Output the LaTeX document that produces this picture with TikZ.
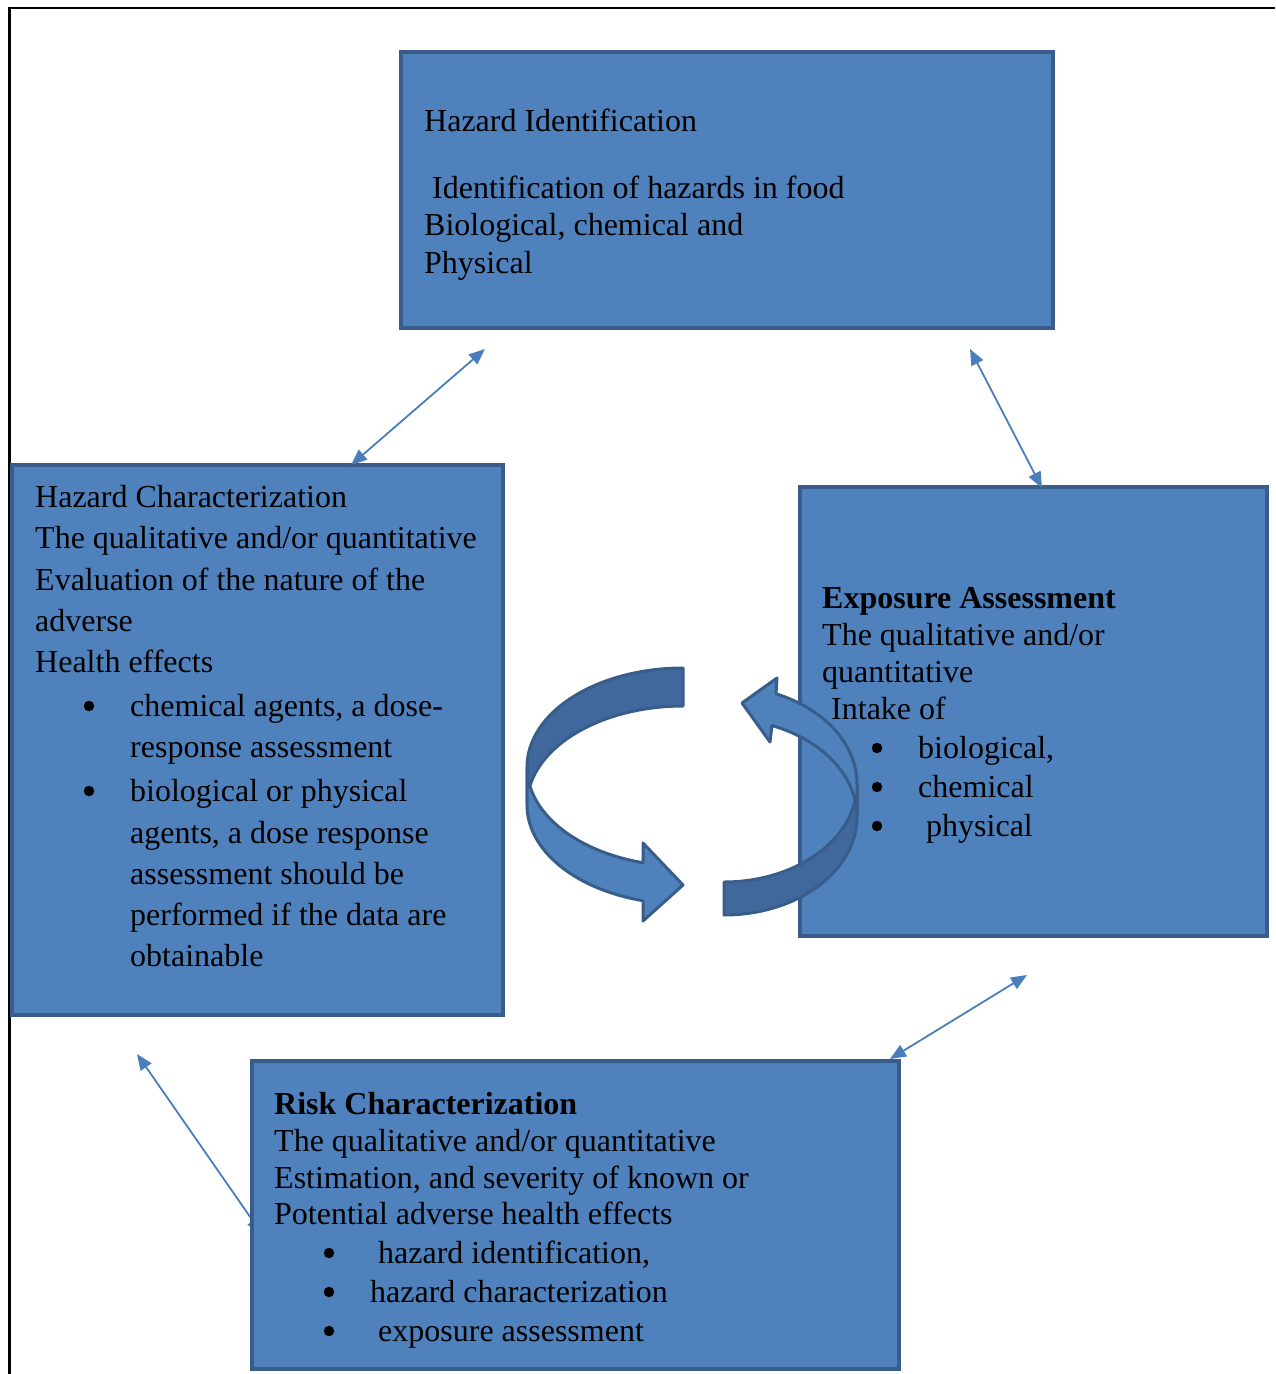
\documentclass[tikz,border=0pt]{standalone}
\usepackage{fontspec}
\setmainfont{Liberation Serif}
\usetikzlibrary{arrows.meta}
\definecolor{boxfill}{HTML}{4F81BD}
\definecolor{boxline}{HTML}{385D8A}
\definecolor{ringdark}{HTML}{40689D}
\definecolor{arrowblue}{HTML}{4A7EBB}
\tikzset{
  box/.style={rectangle, draw=boxline, fill=boxfill, line width=4pt, outer sep=0pt, inner sep=0pt, anchor=north west},
  thinarrow/.style={draw=arrowblue, line width=1.8pt, >={Triangle[length=16pt,width=13pt]}, <->},
  ringback/.style={draw=boxline, fill=ringdark, line width=3pt, line join=round},
  ringfront/.style={draw=boxline, fill=boxfill, line width=3pt, line join=round},
  txt/.style={anchor=base west, inner sep=0pt, font=\fontsize{32}{37}\selectfont},
  bul/.style={circle, fill=black, inner sep=0pt, minimum size=10.5pt},
}
\newcommand\TL[4]{\node[txt] (#1) at (#2,#3+1) {#4};}
\newcommand\BL[3]{\node[bul] (#1) at (#2,#3-9) {};}
\begin{document}
\begin{tikzpicture}[x=1pt,y=-1pt]
\useasboundingbox (0,0) rectangle (1275,1374);
% frame
\draw[line width=2.7pt] (9.5,1374) -- (9.5,8) -- (1275,8);
% arrow partly hidden behind the risk box
\coordinate (a4s) at (137,1054);
\coordinate (a4e) at (262,1234);
\draw[thinarrow] (a4s) -- (a4e);
% boxes
\node[box, minimum width=652pt, minimum height=276pt] (hi) at (401,52) {};
\node[box, minimum width=491pt, minimum height=550pt] (hc) at (12,465) {};
\node[box, minimum width=467pt, minimum height=449pt] (ea) at (800,487) {};
\node[box, minimum width=647pt, minimum height=308pt] (rc) at (252,1061) {};
% thin double arrows
\coordinate (a1s) at (351,465);
\coordinate (a1e) at (485,349);
\coordinate (a2s) at (970,349);
\coordinate (a2e) at (1042,488);
\coordinate (a3s) at (890,1059);
\coordinate (a3e) at (1027,975);
\draw[thinarrow] (a1s) -- (a1e);
\draw[thinarrow] (a2s) -- (a2e);
\draw[thinarrow] (a3s) -- (a3e);
% left circular arrow
\draw[ringback] plot[domain=-90:-180, samples=40] ({683+156*cos(\x)},{767+99*sin(\x)})
   -- plot[domain=180:270, samples=40] ({683+156*cos(\x)},{805+99*sin(\x)}) -- cycle;
\draw[ringfront] plot[domain=180:104.86, samples=40] ({683+156*cos(\x)},{767+99*sin(\x)})
   -- (643,843) -- (683,885) -- (643,921)
   -- plot[domain=104.86:180, samples=40] ({683+156*cos(\x)},{805+99*sin(\x)}) -- cycle;
% right circular arrow
\draw[ringback] plot[domain=0:90, samples=40] ({724+133*cos(\x)},{817+98*sin(\x)})
   -- plot[domain=90:0, samples=40] ({724+133*cos(\x)},{784+98*sin(\x)}) -- cycle;
\draw[ringfront] plot[domain=0:-68.85, samples=40] ({724+133*cos(\x)},{817+98*sin(\x)})
   -- (770,742) -- (742,703) -- (777,678)
   -- plot[domain=-67:0, samples=40] ({724+133*cos(\x)},{784+98*sin(\x)}) -- cycle;
% Hazard Identification text
\TL{hi1}{424}{130}{Hazard Identification}
\TL{hi2}{432}{197}{Identification of hazards in food}
\TL{hi3}{424}{234}{Biological, chemical and}
\TL{hi4}{424}{272}{Physical}
% Hazard Characterization text
\TL{hc1}{35}{506}{Hazard Characterization}
\TL{hc2}{35}{547}{The qualitative and/or quantitative}
\TL{hc3}{35}{589}{Evaluation of the nature of the}
\TL{hc4}{35}{630}{adverse}
\TL{hc5}{35}{671}{Health effects}
\BL{hcb1}{89}{715}
\TL{hc6}{130}{715}{chemical agents, a dose-}
\TL{hc7}{130}{756}{response assessment}
\BL{hcb2}{89}{800}
\TL{hc8}{130}{800}{biological or physical}
\TL{hc9}{130}{842}{agents, a dose response}
\TL{hc10}{130}{883}{assessment should be}
\TL{hc11}{130}{924}{performed if the data are}
\TL{hc12}{130}{965}{obtainable}
% Exposure Assessment text
\TL{ea1}{822}{607}{\textbf{Exposure Assessment}}
\TL{ea2}{822}{644}{The qualitative and/or}
\TL{ea3}{822}{681}{quantitative}
\TL{ea4}{831}{718}{Intake of}
\BL{eab1}{877}{757}
\TL{ea5}{918}{757}{biological,}
\BL{eab2}{877}{796}
\TL{ea6}{918}{796}{chemical}
\BL{eab3}{877}{835}
\TL{ea7}{926}{835}{physical}
% Risk Characterization text
\TL{rc1}{274}{1113}{\textbf{Risk Characterization}}
\TL{rc2}{274}{1150}{The qualitative and/or quantitative}
\TL{rc3}{274}{1187}{Estimation, and severity of known or}
\TL{rc4}{274}{1223}{Potential adverse health effects}
\BL{rcb1}{329}{1262}
\TL{rc5}{378}{1262}{hazard identification,}
\BL{rcb2}{329}{1301}
\TL{rc6}{370}{1301}{hazard characterization}
\BL{rcb3}{329}{1340}
\TL{rc7}{378}{1340}{exposure assessment}
\end{tikzpicture}
\end{document}
